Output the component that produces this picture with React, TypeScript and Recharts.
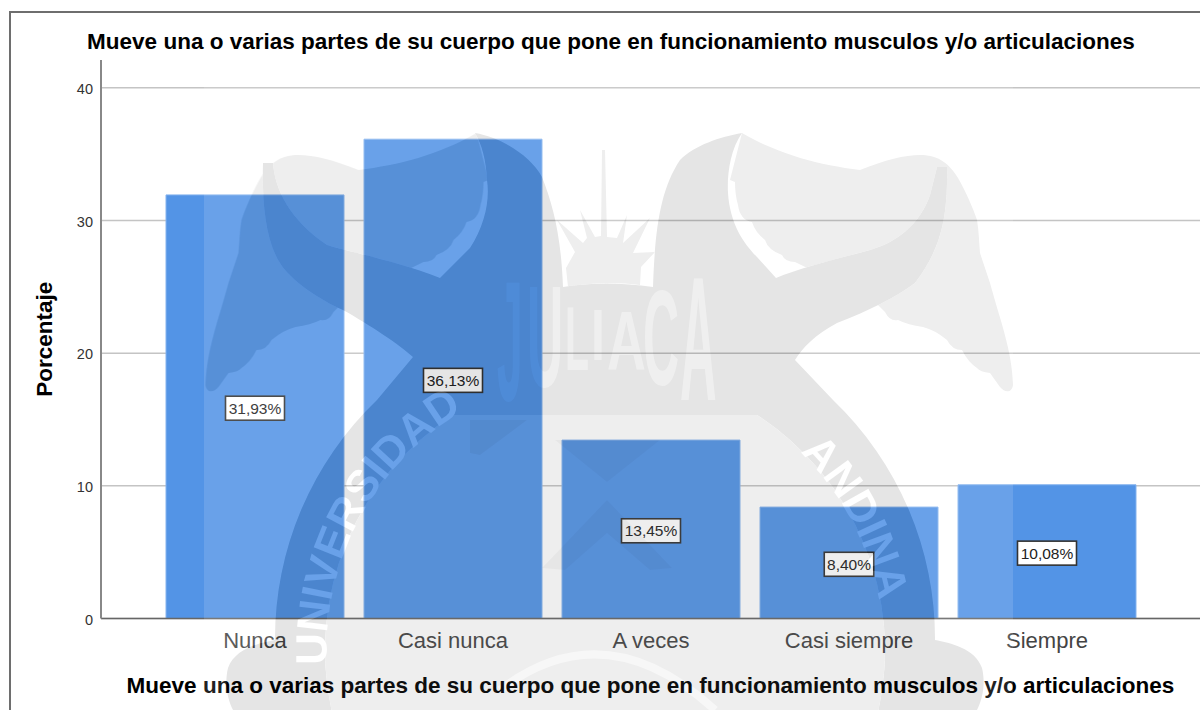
import { Bar, BarChart, CartesianGrid, LabelList, XAxis, YAxis } from 'recharts';

const categories = ['Nunca', 'Casi nunca', 'A veces', 'Casi siempre', 'Siempre'];
const percentages = [31.93, 36.13, 13.45, 8.4, 10.08];
const yTicks = [0, 10, 20, 30, 40];

const chartData = categories.map((name, i) => ({ name, value: percentages[i] }));

const TITLE = 'Mueve una o varias partes de su cuerpo que pone en funcionamiento musculos y/o articulaciones';
const FONT = '"Liberation Sans", Arial, sans-serif';

const fmt = (v: number) => v.toFixed(2).replace('.', ',') + '%';

// white box with the value, centred on the bar
function ValueBox({ x, y, width, height, value }: any) {
  const text = fmt(Number(value));
  const w = text.length * 9.5 + 2;
  const cx = x + width / 2;
  const cy = y + height / 2 + 1.5;
  return (
    <g>
      <rect x={cx - w / 2} y={cy - 12} width={w} height={24} fill="#fff" stroke="#333" strokeWidth={1.6} />
      <text x={cx} y={cy + 5.5} textAnchor="middle" fontSize={15.5} fill="#222" fontFamily={FONT}>
        {text}
      </text>
    </g>
  );
}

// university seal that sits over the whole chart
const WING =
  'M742,133 C780,155 820,165 860,170 C885,160 905,155 920,155 C940,155 950,165 958,178 C966,192 973,208 977,220 C979,232 979,243 980,253 L990,283 C1000,320 1012,350 1013,385 C1012,393 1005,393 1000,387 L990,373 Q980,372 977,368 Q968,362 962,350 Q952,350 947,340 Q935,330 923,327 Q908,325 898,320 Q890,322 885,312 L873,300 L795,262 Q785,262 782,255 Q768,250 765,240 Q755,232 752,222 Q740,220 738,205 Q735,195 735,182 L730,180 Z';
const BODY =
  'M475,133 C500,137 530,155 542,177 C553,205 561,235 563,287 Q605,280 653,287 C655,230 660,190 680,160 C695,145 720,137 742,133 C730,150 727,175 728,193 C730,225 745,245 757,257 L776,278 C800,268 840,258 870,250 C895,243 920,225 930,195 L937,167 L947,167 C948,220 940,250 915,283 C895,298 870,310 837,323 C815,335 803,347 795,360 L833,400 A330,330 0 0 1 935,640 C950,643 975,648 982,668 C986,685 982,700 977,710 L233,710 C228,700 224,685 228,668 C235,648 260,643 275,640 A330,330 0 0 1 377,400 L413,357 C400,345 370,325 343,310 C320,300 290,280 280,263 C265,240 262,200 263,163 L273,163 C275,190 290,220 327,245 C350,252 400,262 440,278 L470,248 C485,225 490,200 487,180 C486,160 482,145 475,133 Z';
const DISC = 'M453,415 L757,415 A280,280 0 0 1 878.5,710 L331.5,710 A280,280 0 0 1 453,415 Z';
const SUN =
  'M568,287 L566,268 L575,252 L557,220 L583,243 L587,238 L580,210 L595,237 L601,236 L602,150 L605,150 L607,237 L617,238 L627,215 L623,243 L650,218 L633,253 L655,252 L641,267 L640,285 Q605,280 568,287 Z';
const NOTCH = 'M470,420 L470,453 L480,455 L527,420 Z';
const FAN = 'M555,440 L660,440 L607,482 Z';
const CHEVRON = 'M607,500 L672,568 L650,570 L607,533 L565,570 L542,568 Z';

const JULIACA = [
  { c: 'J', x: 497, w: 23, top: 277, bottom: 400, adv: 50 },
  { c: 'U', x: 527, w: 36, top: 283, bottom: 387, adv: 72 },
  { c: 'L', x: 565, w: 22, top: 305, bottom: 370, adv: 56 },
  { c: 'I', x: 591, w: 14, top: 308, bottom: 360, adv: 28 },
  { c: 'A', x: 607, w: 36, top: 310, bottom: 370, adv: 67 },
  { c: 'C', x: 643, w: 36, top: 287, bottom: 385, adv: 72 },
  { c: 'A', x: 680, w: 34, top: 273, bottom: 400, adv: 67 },
];

const sealLetters = (fill: string) => (
  <>
    <text fontFamily={FONT} fontWeight="bold" fontSize={44} fill={fill}>
      <textPath href="#arcLeft">UNIVERSIDAD</textPath>
    </text>
    <text fontFamily={FONT} fontWeight="bold" fontSize={44} fill={fill}>
      <textPath href="#arcRight">ANDINA</textPath>
    </text>
  </>
);

const layer = { position: 'absolute', left: 0, top: 0, pointerEvents: 'none' } as const;

// the image's white veil: strong on clear areas, weak on the light shapes, none on the ring
function SealVeil() {
  return (
    <svg width={1200} height={710} style={layer}>
      <defs>
        <path id="arcLeft" d="M327,665 A278,278 0 0 1 470,407" />
        <path id="arcRight" d="M800,452 A278,278 0 0 1 882,620" />
        <mask id="veil" maskUnits="userSpaceOnUse" x={0} y={0} width={1200} height={710}>
          <rect width={1200} height={710} fill="#fff" />
          <path d={WING} fill="#777" />
          <path d={WING} transform="translate(1218.5,0) scale(-1,1)" fill="#777" />
          <path d={BODY} fill="#000" />
          <path d={DISC} fill="#777" />
          {sealLetters('#fff')}
        </mask>
      </defs>
      <rect x={204} y={60} width={809} height={650} fill="#fff" fillOpacity={0.128} mask="url(#veil)" />
    </svg>
  );
}

function Seal() {
  return (
    <svg width={1200} height={710} style={{ ...layer, mixBlendMode: 'multiply' }}>
      <defs>
        <mask id="letters" maskUnits="userSpaceOnUse" x={0} y={0} width={1200} height={710}>
          <rect width={1200} height={710} fill="#fff" />
          {sealLetters('#000')}
          {JULIACA.map((l, i) => (
            <text
              key={i}
              transform={`translate(${l.x},${l.bottom}) scale(${l.w / l.adv},${(l.bottom - l.top) / 72})`}
              fontFamily={FONT}
              fontWeight="bold"
              fontSize={100}
              fill="#999"
            >
              {l.c}
            </text>
          ))}
          <path d="M500,690 Q605,610 715,710" fill="none" stroke="#777" strokeWidth={8} />
        </mask>
        <mask id="noBody" maskUnits="userSpaceOnUse" x={0} y={0} width={1200} height={710}>
          <rect width={1200} height={710} fill="#fff" />
          <path d={BODY} fill="#000" />
        </mask>
        <mask id="noDisc" maskUnits="userSpaceOnUse" x={0} y={0} width={1200} height={710}>
          <rect width={1200} height={710} fill="#fff" />
          <path d={DISC} fill="#000" />
        </mask>
      </defs>
      <g mask="url(#letters)">
        <g mask="url(#noBody)" fill="#eee">
          <path d={WING} />
          <path d={WING} transform="translate(1218.5,0) scale(-1,1)" />
          <path d={SUN} />
        </g>
        <g mask="url(#noDisc)" fill="#e5e5e5">
          <path d={BODY} />
        </g>
        <path d={DISC} fill="#eee" />
        <path d={NOTCH} fill="#000" fillOpacity={0.04} />
        <path d={FAN} fill="#000" fillOpacity={0.03} />
        <path d={CHEVRON} fill="#000" fillOpacity={0.03} />
      </g>
    </svg>
  );
}

export default function App() {
  return (
    <div style={{ position: 'absolute', left: 0, top: 0, width: 1200, height: 710, background: '#fff', overflow: 'hidden', isolation: 'isolate' }}>
      <div
        style={{
          position: 'absolute',
          left: 9,
          top: 11,
          width: 1191,
          height: 699,
          borderLeft: '2px solid #6e6e6e',
          borderTop: '2px solid #6e6e6e',
          boxSizing: 'border-box',
        }}
      />
      <BarChart
        width={1200}
        height={710}
        data={chartData}
        margin={{ top: 60, right: 0, bottom: 0, left: 0 }}
        style={{ position: 'absolute', left: 0, top: 0, fontFamily: FONT }}
      >
        <CartesianGrid vertical={false} horizontalValues={yTicks} stroke="#c4c4c4" strokeWidth={1.5} />
        <XAxis
          dataKey="name"
          height={91.5}
          padding={{ left: 55, right: 54 }}
          axisLine={{ stroke: '#666', strokeWidth: 1.5 }}
          tickLine={false}
          tick={{ fontSize: 22, fill: '#444', fontFamily: FONT }}
          tickMargin={8}
          interval={0}
          label={{
            value: TITLE,
            position: 'insideBottom',
            dx: 0,
            offset: 17,
            style: { fontSize: 22.5, fontWeight: 'bold', fill: '#000', fontFamily: FONT },
          }}
        />
        <YAxis
          width={101}
          domain={[0, 42.1]}
          ticks={yTicks}
          axisLine={{ stroke: '#888', strokeWidth: 2 }}
          tickLine={false}
          tick={{ fontSize: 14.5, fill: '#333', fontFamily: FONT, dy: 1 }}
          tickMargin={2}
          label={{
            value: 'Porcentaje',
            angle: -90,
            position: 'insideLeft',
            offset: 44,
            style: { fontSize: 22.5, fontWeight: 'bold', fill: '#000', textAnchor: 'middle', fontFamily: FONT },
          }}
        />
        <Bar dataKey="value" fill="#5394E6" stroke="#85b3ee" strokeWidth={1} barSize={178} isAnimationActive={false}>
          <LabelList dataKey="value" content={ValueBox} />
        </Bar>
        <text x={611} y={48.5} textAnchor="middle" fontSize={22.5} fontWeight="bold" fill="#000" fontFamily={FONT}>
          {TITLE}
        </text>
      </BarChart>
      <SealVeil />
      <Seal />
    </div>
  );
}
